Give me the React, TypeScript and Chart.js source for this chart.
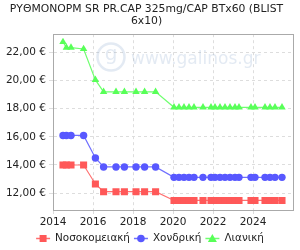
import React, { useEffect, useRef } from "react";
import { Chart, registerables } from "chart.js";

Chart.register(...registerables);

const titleLines = ["ΡΥΘΜΟΝΟΡΜ SR PR.CAP 325mg/CAP BTx60 (BLIST", "6x10)"];
const seriesNames = ["Νοσοκομειακή", "Χονδρική", "Λιανική"];
const dates = [
  2014.5, 2014.67, 2014.9, 2015.53, 2016.12, 2016.53, 2017.15, 2017.57, 2018.15, 2018.58, 2019.13,
  2020.05, 2020.3, 2020.55, 2020.8, 2021.05, 2021.5, 2021.9, 2022.1, 2022.35, 2022.6, 2022.85,
  2023.1, 2023.3, 2023.9, 2024.1, 2024.6, 2024.85, 2025.1, 2025.45,
];
const hospital = [
  14.0, 14.0, 14.0, 14.0, 12.65, 12.1, 12.1, 12.1, 12.1, 12.1, 12.1,
  11.48, 11.48, 11.48, 11.48, 11.48, 11.48, 11.48, 11.48, 11.48, 11.48, 11.48,
  11.48, 11.48, 11.48, 11.48, 11.48, 11.48, 11.48, 11.48,
];
const wholesale = [
  16.1, 16.1, 16.1, 16.1, 14.5, 13.86, 13.86, 13.86, 13.86, 13.86, 13.86,
  13.12, 13.12, 13.12, 13.12, 13.12, 13.12, 13.12, 13.12, 13.12, 13.12, 13.12,
  13.12, 13.12, 13.12, 13.12, 13.12, 13.12, 13.12, 13.12,
];
const retail = [
  22.75, 22.35, 22.35, 22.25, 20.05, 19.2, 19.2, 19.2, 19.2, 19.2, 19.2,
  18.1, 18.1, 18.1, 18.1, 18.1, 18.1, 18.1, 18.1, 18.1, 18.1, 18.1,
  18.1, 18.1, 18.1, 18.1, 18.1, 18.1, 18.1, 18.1,
];
const xTicks = [2014, 2016, 2018, 2020, 2022, 2024];
const yTicks = [12, 14, 16, 18, 20, 22];

const FONT = "'DejaVu Sans', sans-serif";
const colors = ["#ff5858", "#5858ff", "#58ff58"];
const lineColors = ["#ff7070", "#7070ff", "#70ff70"];
const styles = ["rect", "circle", "triangle"];
const radii = [5, 3.7, 4.3];

function drawMarker(ctx: CanvasRenderingContext2D, i: number, cx: number, cy: number) {
  ctx.fillStyle = colors[i];
  ctx.beginPath();
  if (i === 0) ctx.rect(cx - 3.5, cy - 3.5, 7, 7);
  else if (i === 1) ctx.arc(cx, cy, 3.8, 0, Math.PI * 2);
  else {
    ctx.moveTo(cx, cy - 4.5);
    ctx.lineTo(cx + 4.5, cy + 3.5);
    ctx.lineTo(cx - 4.5, cy + 3.5);
    ctx.closePath();
  }
  ctx.fill();
}

const framePlugin = {
  id: "frame",
  beforeDatasetsDraw(chart: any) {
    const { ctx } = chart;
    ctx.save();
    ctx.globalAlpha = 0.25;
    ctx.strokeStyle = "#8faad0";
    ctx.fillStyle = "#8faad0";
    ctx.lineWidth = 2.5;
    ctx.beginPath();
    ctx.arc(111, 57, 13.5, 0, Math.PI * 2);
    ctx.stroke();
    ctx.font = "20px " + FONT;
    ctx.textAlign = "center";
    ctx.textBaseline = "middle";
    ctx.fillText("g", 111, 55);
    ctx.font = "17px " + FONT;
    ctx.textAlign = "left";
    ctx.fillText("www.galinos.gr", 131, 60);
    ctx.restore();
  },
  afterDatasetsDraw(chart: any) {
    const { ctx, chartArea: a } = chart;
    ctx.save();
    ctx.strokeStyle = "#aaaaaa";
    ctx.lineWidth = 1;
    ctx.strokeRect(Math.round(a.left) + 0.5, Math.round(a.top) + 0.5, Math.round(a.right - a.left), Math.round(a.bottom - a.top));
    ctx.restore();
  },
  afterDraw(chart: any) {
    const { ctx } = chart;
    ctx.save();
    ctx.font = "10.4px " + FONT;
    const iconW = 14;
    const gap = 5;
    const itemGap = 4;
    const widths = seriesNames.map((n) => iconW + gap + ctx.measureText(n).width);
    const total = widths.reduce((s, w) => s + w, 0) + itemGap * (widths.length - 1);
    let x = (chart.width - total) / 2;
    const y = 238.5;
    seriesNames.forEach((n, i) => {
      ctx.strokeStyle = lineColors[i];
      ctx.lineWidth = 1.5;
      ctx.beginPath();
      ctx.moveTo(x, y);
      ctx.lineTo(x + iconW, y);
      ctx.stroke();
      drawMarker(ctx, i, x + iconW / 2, y);
      ctx.fillStyle = "#222";
      ctx.textAlign = "left";
      ctx.textBaseline = "middle";
      ctx.fillText(n, x + iconW + gap, y);
      x += widths[i] + itemGap;
    });
    ctx.restore();
  },
};

export default function App() {
  const ref = useRef<HTMLCanvasElement>(null);
  useEffect(() => {
    document.body.style.margin = "0";
    const series = [hospital, wholesale, retail];
    const chart = new Chart(ref.current!, {
      type: "line",
      data: {
        datasets: series.map((vals, i) => ({
          label: seriesNames[i],
          data: dates.map((d, k) => ({ x: d, y: vals[k] })),
          borderColor: lineColors[i],
          backgroundColor: colors[i],
          pointBackgroundColor: colors[i],
          pointBorderColor: colors[i],
          pointBorderWidth: 0,
          pointStyle: styles[i] as any,
          pointRadius: radii[i],
          borderWidth: 1.2,
          tension: 0,
        })),
      },
      options: {
        animation: false,
        responsive: false,
        layout: { padding: { right: 7, left: 0, top: 0, bottom: 20 } },
        plugins: {
          title: {
            display: true,
            text: titleLines,
            color: "#222",
            font: { family: FONT, size: 10.8, weight: "normal", lineHeight: 1.12 },
            padding: { top: 3, bottom: 7 },
          },
          legend: { display: false },
          tooltip: { enabled: false },
        },
        scales: {
          x: {
            type: "linear",
            min: 2014,
            max: 2026,
            afterBuildTicks: (s: any) => {
              s.ticks = xTicks.map((v) => ({ value: v }));
            },
            afterFit: (s: any) => {
              s.height = 20;
            },
            ticks: {
              color: "#222",
              font: { family: FONT, size: 10.5 },
              maxRotation: 0,
              padding: 2,
              callback: (v: any) => String(v),
            },
            grid: { color: "#dddddd", tickLength: 4, drawTicks: true },
            border: { display: true, color: "#aaaaaa", dash: [3, 3] },
          },
          y: {
            min: 10.8,
            max: 23.3,
            afterBuildTicks: (s: any) => {
              s.ticks = yTicks.map((v) => ({ value: v }));
            },
            afterFit: (s: any) => {
              s.width = 53;
            },
            ticks: {
              color: "#222",
              font: { family: FONT, size: 10.5 },
              callback: (v: any) => Number(v).toFixed(2).replace(".", ",") + " €",
            },
            grid: { color: "#dddddd", tickLength: 4 },
            border: { display: true, color: "#aaaaaa", dash: [3, 3] },
          },
        },
      },
      plugins: [framePlugin],
    });
    return () => chart.destroy();
  }, []);
  return <canvas ref={ref} width={300} height={250} style={{ display: "block" }} />;
}
